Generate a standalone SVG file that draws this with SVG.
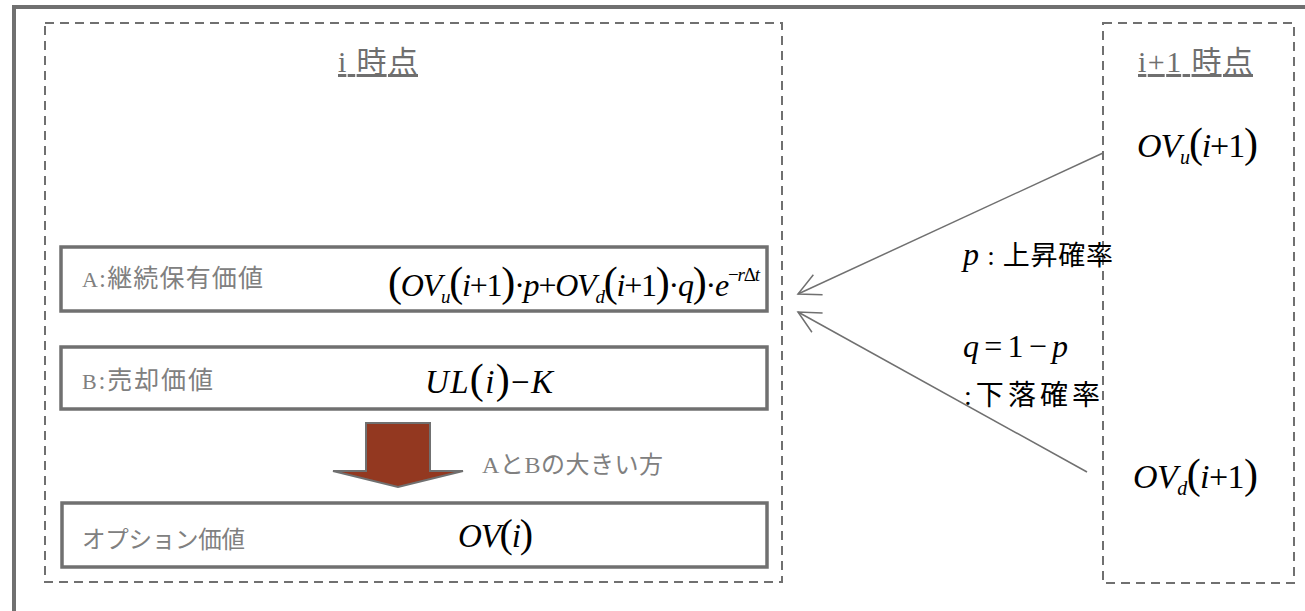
<svg xmlns="http://www.w3.org/2000/svg" width="1305" height="611" viewBox="0 0 1305 611">
<style>
.frame{fill:none;stroke:#707070;stroke-width:4}
.dash{fill:none;stroke:#707070;stroke-width:2;stroke-dasharray:9 6}
.box{fill:#fff;stroke:#707070;stroke-width:3.5}
.lbl{font-family:"Liberation Serif","Times New Roman",serif;fill:#808080}
.ttl{font-family:"Liberation Serif","Times New Roman",serif;fill:#6f6f6f;text-decoration:underline}
.math{font-family:"Liberation Serif","Times New Roman",serif;fill:#000}
.cjk{font-family:"Noto Sans CJK JP","Noto Sans CJK SC",sans-serif}
.it{font-style:italic}
.conn{stroke:#707070;stroke-width:1.5;fill:none}
</style>
<defs>
<marker id="open" viewBox="-25 -15 30 30" refX="0" refY="0" markerWidth="30" markerHeight="30" markerUnits="userSpaceOnUse" orient="auto">
<path d="M-22,-11 L0,0 L-22,11" fill="none" stroke="#707070" stroke-width="1.5"/>
</marker>
</defs>
<rect width="1305" height="611" fill="#fff"/>
<rect class="frame" x="14" y="7" width="1400" height="700"/>

<g id="time-i">
<rect class="dash" x="45" y="23" width="737" height="559"/>
<text class="ttl" x="338" y="72" font-size="30" textLength="80" lengthAdjust="spacing">i <tspan class="cjk">時点</tspan></text>
</g>

<g id="time-i1">
<rect class="dash" x="1103" y="23" width="191" height="560"/>
<text class="ttl" x="1138" y="72" font-size="30" textLength="115" lengthAdjust="spacing">i+1 <tspan class="cjk">時点</tspan></text>
</g>

<g id="ovu">
<text class="math" x="1137" y="157" font-size="34" textLength="121" lengthAdjust="spacing"><tspan class="it">OV</tspan><tspan class="it" font-size="20" dy="7">u</tspan><tspan font-size="42" dy="-7">(</tspan><tspan class="it">i</tspan>+1<tspan font-size="42">)</tspan></text>
</g>

<g id="ovd">
<text class="math" x="1133" y="488" font-size="34" textLength="125" lengthAdjust="spacing"><tspan class="it">OV</tspan><tspan class="it" font-size="20" dy="7">d</tspan><tspan font-size="42" dy="-7">(</tspan><tspan class="it">i</tspan>+1<tspan font-size="42">)</tspan></text>
</g>

<g id="boxA">
<rect class="box" x="61" y="247" width="706" height="64"/>
<text class="lbl" x="82" y="287" font-size="25" textLength="181" lengthAdjust="spacing"><tspan font-size="22">A</tspan>:<tspan class="cjk">継続保有価値</tspan></text>
<text class="math" x="388" y="296" font-size="32" textLength="372" lengthAdjust="spacing"><tspan font-size="42">(</tspan><tspan class="it">OV</tspan><tspan class="it" font-size="19" dy="7">u</tspan><tspan font-size="42" dy="-7">(</tspan><tspan class="it">i</tspan>+1<tspan font-size="42">)</tspan>·<tspan class="it">p</tspan>+<tspan class="it">OV</tspan><tspan class="it" font-size="19" dy="7">d</tspan><tspan font-size="42" dy="-7">(</tspan><tspan class="it">i</tspan>+1<tspan font-size="42">)</tspan>·<tspan class="it">q</tspan><tspan font-size="42">)</tspan>·<tspan class="it">e</tspan><tspan font-size="19" dy="-15">−<tspan class="it">r</tspan>Δ<tspan class="it">t</tspan></tspan></text>
</g>

<g id="boxB">
<rect class="box" x="61" y="347" width="706" height="62"/>
<text class="lbl" x="82" y="389" font-size="25" textLength="131" lengthAdjust="spacing"><tspan font-size="22">B</tspan>:<tspan class="cjk">売却価値</tspan></text>
<text class="math" x="425" y="393" font-size="33" textLength="128" lengthAdjust="spacing"><tspan class="it">UL</tspan><tspan font-size="42">(</tspan><tspan class="it">i</tspan><tspan font-size="42">)</tspan>−<tspan class="it">K</tspan></text>
</g>

<g id="arrow-max">
<polygon points="366,423 430,423 430,471 463,471 398,487 333,471 366,471" fill="#933820" stroke="#707070" stroke-width="2"/>
<text class="lbl" x="482" y="473" font-size="24" textLength="181" lengthAdjust="spacing">A<tspan class="cjk">と</tspan>B<tspan class="cjk">の大きい方</tspan></text>
</g>

<g id="boxOV">
<rect class="box" x="62" y="503" width="705" height="64"/>
<text class="lbl cjk" x="82" y="548" font-size="23.5" textLength="163" lengthAdjust="spacing">オプション価値</text>
<text class="math" x="458" y="547" font-size="33" textLength="75" lengthAdjust="spacing"><tspan class="it">OV</tspan><tspan font-size="40">(</tspan><tspan class="it">i</tspan><tspan font-size="40">)</tspan></text>
</g>

<g id="prob-labels">
<text class="math" x="963" y="265" font-size="27" textLength="150" lengthAdjust="spacing"><tspan class="it" font-size="32">p</tspan> : <tspan class="cjk">上昇確率</tspan></text>
<text class="math" x="963" y="357" font-size="32" textLength="105" lengthAdjust="spacing"><tspan class="it">q</tspan>=1−<tspan class="it">p</tspan></text>
<text class="math" x="964" y="405" font-size="28" textLength="136" lengthAdjust="spacing">:<tspan class="cjk">下落確率</tspan></text>
</g>

<g id="connectors">
<line class="conn" x1="1103" y1="153" x2="798" y2="294" marker-end="url(#open)"/>
<line class="conn" x1="1087" y1="472" x2="798" y2="312" marker-end="url(#open)"/>
</g>
</svg>
